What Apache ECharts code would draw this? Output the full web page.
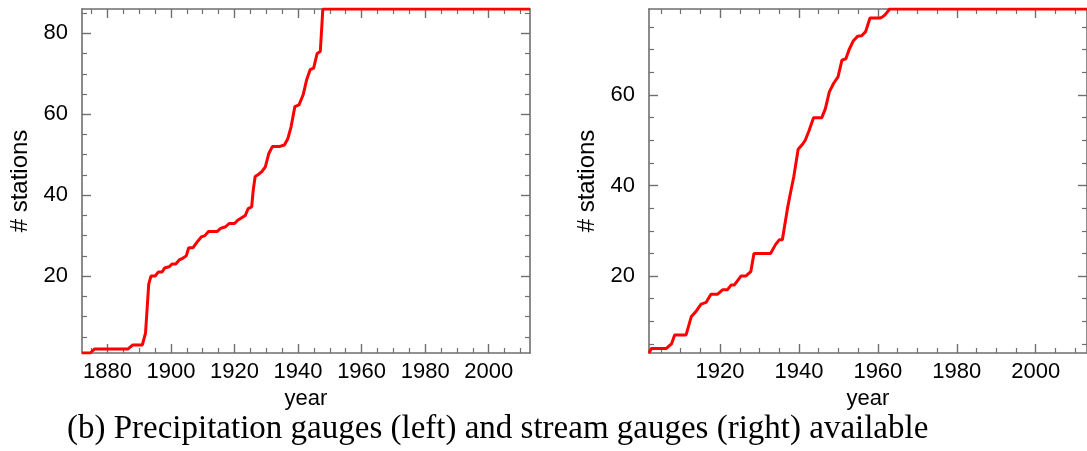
<!DOCTYPE html>
<html>
<head>
<meta charset="utf-8">
<script src="https://cdn.jsdelivr.net/npm/echarts@6/dist/echarts.min.js"></script>
<style>
html,body{margin:0;padding:0;background:#fff;}
#chart{width:1087px;height:451px;}
</style>
</head>
<body>
<div id="chart"></div>
<script>
// ---- data ----
const precipYears = [1872, 1874.6, 1876, 1886.5, 1888, 1891, 1892, 1893, 1893.7, 1895, 1896, 1897.2, 1898, 1899.4, 1900.4, 1901.5, 1902.6, 1903.7, 1904.8, 1905.6, 1906.9, 1908.5, 1909.6, 1910.7, 1911.8, 1914.5, 1915.6, 1917.2, 1918.3, 1920, 1921, 1922, 1923.4, 1924.3, 1925.4, 1925.9, 1926.5, 1927.5, 1928.6, 1929.7, 1930.8, 1931.9, 1934, 1935.7, 1936.8, 1937.8, 1939, 1940.3, 1941.6, 1942.7, 1943.8, 1944.9, 1946, 1947, 1947.8, 2013];
const precipCounts = [1, 1, 2, 2, 3, 3, 6, 18, 20, 20, 21, 21, 22, 22.3, 23, 23, 24, 24.4, 25, 27, 27, 28.7, 29.7, 30, 31, 31, 31.8, 32.2, 33, 33, 33.8, 34.3, 35, 36.7, 37.1, 41.3, 44.6, 45.1, 45.8, 47, 50.3, 52, 52, 52.4, 54, 56.9, 61.9, 62.3, 64.8, 68.5, 71, 71.4, 75, 75.5, 86, 86];

const streamYears = [1902, 1902.6, 1906.4, 1907.7, 1908.5, 1911.4, 1912.7, 1914, 1915.2, 1916.5, 1917.7, 1919.4, 1920.7, 1921.9, 1922.8, 1923.6, 1925.3, 1926.5, 1927.8, 1928.6, 1932.8, 1934.1, 1935, 1935.8, 1937.1, 1938, 1938.7, 1939.8, 1940.8, 1941.6, 1942.5, 1943.7, 1945.8, 1946.7, 1947.7, 1948.8, 1949.9, 1950.9, 1951.9, 1952.7, 1953.8, 1954.9, 1955.9, 1956.9, 1958, 1960.5, 1961.1, 1961.8, 1963, 2013];
const streamCounts = [3, 4, 4, 5, 7, 7, 11, 12.3, 13.8, 14.2, 16, 16, 17, 17, 18, 18, 20, 20, 21, 25, 25, 27, 28, 28, 35, 39, 42, 48, 49, 50, 52, 55, 55, 57, 60.7, 62.6, 64, 67.7, 68, 70, 72, 73, 73.1, 74, 77, 77, 77.2, 77.7, 79, 79];

const precipXRange = [1872, 2013];
const precipYRange = [1, 86];
const streamXRange = [1902, 2013];
const streamYRange = [3, 79];

const precipXMajor = [1880, 1900, 1920, 1940, 1960, 1980, 2000];
const precipYMajor = [20, 40, 60, 80];
const streamXMajor = [1920, 1940, 1960, 1980, 2000];
const streamYMajor = [20, 40, 60];

const xAxisName = 'year';
const yAxisName = '# stations';
const captionText = '(b) Precipitation gauges (left) and stream gauges (right) available';

// ---- helpers ----
function minorValues(lo, hi, step, majors) {
  const out = [];
  for (let v = Math.ceil(lo / step) * step; v <= hi; v += step) {
    if (majors.indexOf(v) < 0) out.push(v);
  }
  return out;
}
const AXIS_COLOR = '#6f6f6f';
const FONT = 'Liberation Sans';

function makeAxes(dim, gridIndex, range, majors, showLabel, name) {
  const minors = minorValues(range[0], range[1], 5, majors);
  const positions = dim === 'x' ? ['bottom', 'top'] : ['left', 'right'];
  const axes = [];
  positions.forEach((pos, pi) => {
    axes.push({
      type: 'value', gridIndex, position: pos, min: range[0], max: range[1],
      name: (pi === 0 && name) ? name : '',
      nameLocation: 'middle',
      nameGap: dim === 'x' ? 20 : 50,
      nameTextStyle: {fontFamily: FONT, fontSize: dim === 'x' ? 22 : 24, color: '#000'},
      axisLine: {show: true, onZero: false, lineStyle: {color: AXIS_COLOR, width: 1.6}},
      axisTick: {show: true, inside: true, length: 9, customValues: majors, lineStyle: {color: AXIS_COLOR, width: 1.4}},
      axisLabel: {show: pi === 0 && showLabel, customValues: majors, margin: dim === 'x' ? 8 : 14,
        fontFamily: FONT, fontSize: 22, color: '#000', formatter: v => String(v)},
      splitLine: {show: false}
    });
    axes.push({
      type: 'value', gridIndex, position: pos, min: range[0], max: range[1],
      axisLine: {show: false, onZero: false},
      axisTick: {show: true, inside: true, length: 5, customValues: minors, lineStyle: {color: AXIS_COLOR, width: 1.2}},
      axisLabel: {show: false},
      splitLine: {show: false}
    });
  });
  return axes;
}

const xAxes = [].concat(
  makeAxes('x', 0, precipXRange, precipXMajor, true, xAxisName),
  makeAxes('x', 1, streamXRange, streamXMajor, true, xAxisName)
);
const yAxes = [].concat(
  makeAxes('y', 0, precipYRange, precipYMajor, true, yAxisName),
  makeAxes('y', 1, streamYRange, streamYMajor, true, yAxisName)
);

const chart = echarts.init(document.getElementById('chart'), null, {renderer: 'canvas'});
chart.setOption({
  animation: false,
  backgroundColor: '#fff',
  grid: [
    {left: 82, right: 557, top: 9, bottom: 98},
    {left: 649, right: -7, top: 9, bottom: 98}
  ],
  xAxis: xAxes,
  yAxis: yAxes,
  series: [
    {type: 'line', xAxisIndex: 0, yAxisIndex: 0, showSymbol: false, clip: true,
      data: precipYears.map((y, i) => [y, precipCounts[i]]),
      lineStyle: {color: '#ff0000', width: 3}},
    {type: 'line', xAxisIndex: 4, yAxisIndex: 4, showSymbol: false, clip: true,
      data: streamYears.map((y, i) => [y, streamCounts[i]]),
      lineStyle: {color: '#ff0000', width: 3}}
  ],
  graphic: [{
    type: 'text', left: 67, top: 413,
    style: {text: captionText, font: '33px "Liberation Serif"', fill: '#000'}
  }]
});
</script>
</body>
</html>
